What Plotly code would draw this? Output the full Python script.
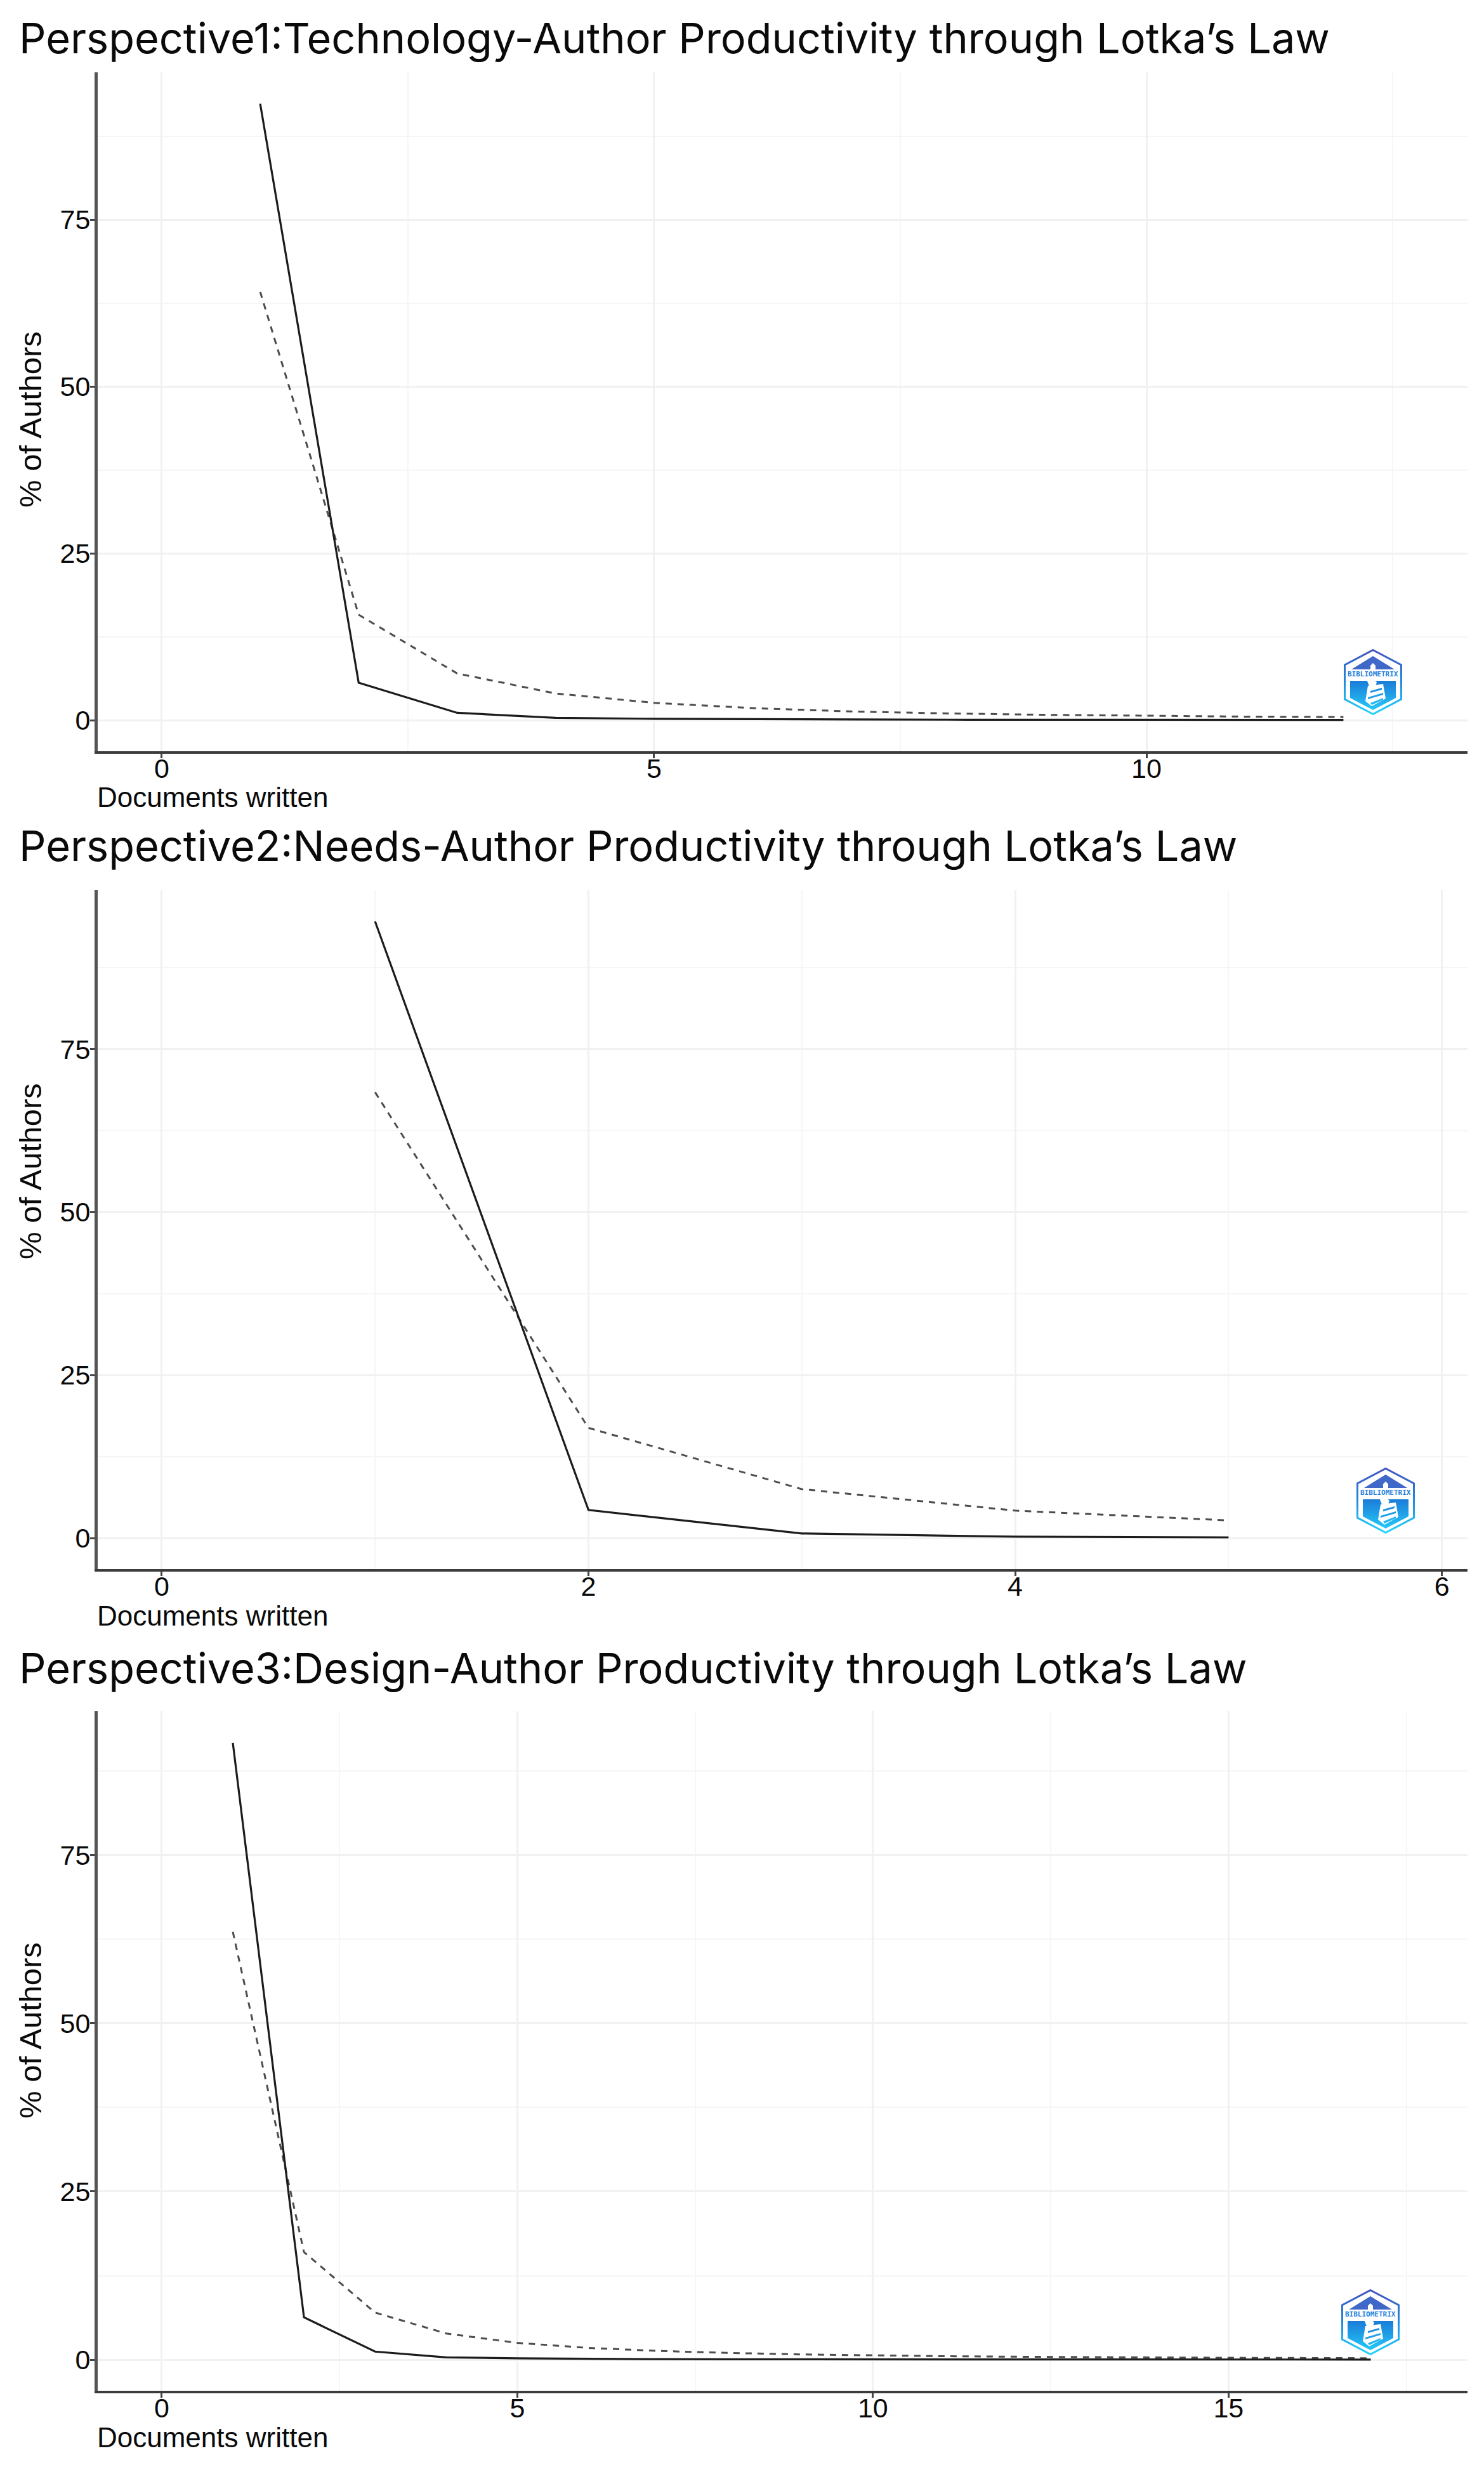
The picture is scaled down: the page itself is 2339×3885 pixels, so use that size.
import base64
import plotly.graph_objects as go

W, H = 2339, 3885

titles = ["Perspective1:Technology-Author Productivity through Lotka’s Law",
          "Perspective2:Needs-Author Productivity through Lotka’s Law",
          "Perspective3:Design-Author Productivity through Lotka’s Law"]
docs1 = [1, 2, 3, 4, 5, 6, 7, 8, 9, 10, 11, 12]
observed1 = [92.4, 5.6, 1.1, 0.35, 0.2, 0.12, 0.1, 0.07, 0.06, 0.05, 0.04, 0.03]
lotka1 = [64.2, 15.8, 7.0, 4.0, 2.6, 1.8, 1.3, 1.0, 0.8, 0.65, 0.53, 0.47]
docs2 = [1, 2, 3, 4, 5]
observed2 = [94.6, 4.3, 0.7, 0.2, 0.1]
lotka2 = [68.4, 16.9, 7.5, 4.2, 2.7]
docs3 = [1, 2, 3, 4, 5, 6, 7, 8, 9, 10, 11, 12, 13, 14, 15, 16, 17]
observed3 = [91.7, 6.3, 1.2, 0.35, 0.2, 0.12, 0.08, 0.06, 0.05, 0.04, 0.03, 0.03, 0.02, 0.02, 0.02, 0.02, 0.02]
lotka3 = [63.6, 16.0, 7.0, 3.9, 2.5, 1.75, 1.3, 1.0, 0.78, 0.63, 0.52, 0.44, 0.37, 0.32, 0.28, 0.25, 0.22]
y_ticks = [0, 25, 50, 75]
y_minor = [12.5, 37.5, 62.5, 87.5]
x_ticks = [[0, 5, 10], [0, 2, 4, 6], [0, 5, 10, 15]]
x_minor = [[2.5, 7.5, 12.5], [1, 3, 5], [2.5, 7.5, 12.5, 17.5]]

panels = [
    dict(x=docs1, obs=observed1, lot=lotka1, xr=[-0.65, 13.26], yr=[-4.66, 97.1], top=114, bot=1184,
         title_y=60, ytitle_y=661, logo=(2118, 1023)),
    dict(x=docs2, obs=observed2, lot=lotka2, xr=[-0.30, 6.12], yr=[-4.77, 99.4], top=1403, bot=2473,
         title_y=1332, ytitle_y=1846, logo=(2138, 2313)),
    dict(x=docs3, obs=observed3, lot=lotka3, xr=[-0.90, 18.36], yr=[-4.62, 96.4], top=2697, bot=3768,
         title_y=2628, ytitle_y=3200, logo=(2114, 3608)),
]
LEFT, RIGHT = 154, 2313

LOGO_SVG = """<svg xmlns="http://www.w3.org/2000/svg" viewBox="0 0 92 104" width="368" height="416">
<defs>
<linearGradient id="a" x1="0" y1="0" x2="0" y2="1"><stop offset="0" stop-color="#4353bd"/><stop offset="0.5" stop-color="#1f8be0"/><stop offset="1" stop-color="#22d3fb"/></linearGradient>
<linearGradient id="b" x1="0" y1="0" x2="0" y2="1"><stop offset="0" stop-color="#1b7cd8"/><stop offset="1" stop-color="#25c8f7"/></linearGradient>
</defs>
<polygon points="46,1.5 90.5,25 90.5,79 46,102.5 1.5,79 1.5,25" fill="#ffffff" stroke="url(#a)" stroke-width="3"/>
<polygon points="46,11 80,32 12,32" fill="#3f68c8"/>
<polygon points="46,22 50,26 50,32 42,32 42,26" fill="#ffffff"/>
<polygon points="10,50 82,50 82,77 46,96 10,77" fill="url(#b)"/>
<polygon points="36,48 44,46 52,52 50,58 40,58" fill="#ffffff"/>
<polygon points="38,58 62,55 66,78 44,90 34,82" fill="#ffffff"/>
<polygon points="42,66 60,61 60,64 42,69" fill="#1f8fe2"/>
<polygon points="38,76 62,69 62,72 38,79" fill="#1f9fe8"/>
<polygon points="42,85 62,77 62,80 44,88" fill="#22b5f0"/>
</svg>"""
logo_src = "data:image/svg+xml;base64," + base64.b64encode(LOGO_SVG.encode()).decode()

fig = go.Figure()
layout = dict(width=W, height=H, autosize=False, margin=dict(l=0, r=0, t=0, b=0),
              paper_bgcolor="white", plot_bgcolor="white", showlegend=False)
annotations, images = [], []
TICK_FONT = dict(family="Liberation Sans, Arial, sans-serif", size=43, color="#0a0a0a")
GRID, GRID_MINOR = "#f1f1f1", "#f6f6f6"

for i, p in enumerate(panels):
    suf = "" if i == 0 else str(i + 1)
    fig.add_trace(go.Scatter(x=p["x"], y=p["lot"], mode="lines", name="Lotka's law",
                             line=dict(color="#4d4d4d", width=3, dash="10px,9px"),
                             xaxis="x" + suf, yaxis="y" + suf))
    fig.add_trace(go.Scatter(x=p["x"], y=p["obs"], mode="lines", name="Observed",
                             line=dict(color="#1c1c1c", width=3.2),
                             xaxis="x" + suf, yaxis="y" + suf))
    layout["xaxis" + suf] = dict(
        domain=[LEFT / W, RIGHT / W], range=p["xr"], anchor="y" + suf, tickmode="array", tickvals=x_ticks[i],
        showline=True, linecolor="#3c3c3c", linewidth=3.5, ticks="outside", ticklen=7, tickwidth=2.5,
        tickcolor="#444444", tickfont=TICK_FONT, ticklabelstandoff=-20, showgrid=True, gridcolor=GRID, gridwidth=3,
        zeroline=False,
        minor=dict(tickmode="array", tickvals=x_minor[i], showgrid=True, gridcolor=GRID_MINOR, gridwidth=2, ticks=""))
    layout["yaxis" + suf] = dict(
        domain=[1 - p["bot"] / H, 1 - p["top"] / H], range=p["yr"], anchor="x" + suf, tickmode="array",
        tickvals=y_ticks, showline=True, linecolor="#555555", linewidth=5, ticks="outside", ticklen=7, tickwidth=2.5,
        tickcolor="#444444", tickfont=TICK_FONT, ticklabelstandoff=-9, showgrid=True, gridcolor=GRID, gridwidth=3,
        zeroline=False,
        minor=dict(tickmode="array", tickvals=y_minor, showgrid=True, gridcolor=GRID_MINOR, gridwidth=2, ticks=""))
    annotations.append(dict(text=titles[i], xref="paper", yref="paper", x=28 / W, y=1 - p["title_y"] / H,
                            xanchor="left", yanchor="middle", showarrow=False,
                            font=dict(family="Inter, sans-serif", size=66.6, color="#0a0a0a")))
    annotations.append(dict(text="% of Authors", xref="paper", yref="paper", x=48 / W, y=1 - p["ytitle_y"] / H,
                            xanchor="center", yanchor="middle", textangle=-90, showarrow=False,
                            font=dict(family="Liberation Sans, Arial, sans-serif", size=49, color="#0a0a0a")))
    annotations.append(dict(text="Documents written", xref="paper", yref="paper", x=LEFT / W,
                            y=1 - (p["bot"] + 73) / H, xanchor="left", yanchor="middle", showarrow=False, xshift=-3,
                            font=dict(family="Liberation Sans, Arial, sans-serif", size=44, color="#0a0a0a")))
    lx, ly = p["logo"]
    images.append(dict(source=logo_src, xref="paper", yref="paper", x=lx / W, y=1 - ly / H,
                       sizex=92 / W, sizey=104 / H, xanchor="left", yanchor="top", sizing="stretch", layer="above"))
    annotations.append(dict(text="BIBLIOMETRIX", xref="paper", yref="paper", x=(lx + 46) / W, y=1 - (ly + 39) / H,
                            xanchor="center", yanchor="middle", showarrow=False,
                            font=dict(family="DejaVu Sans Mono, monospace", size=11, color="#1f7fdc", weight="bold")))

fig.update_layout(**layout, annotations=annotations, images=images)
fig.write_html("out.html", config=dict(displayModeBar=False), post_script="document.body.style.margin='0';")
